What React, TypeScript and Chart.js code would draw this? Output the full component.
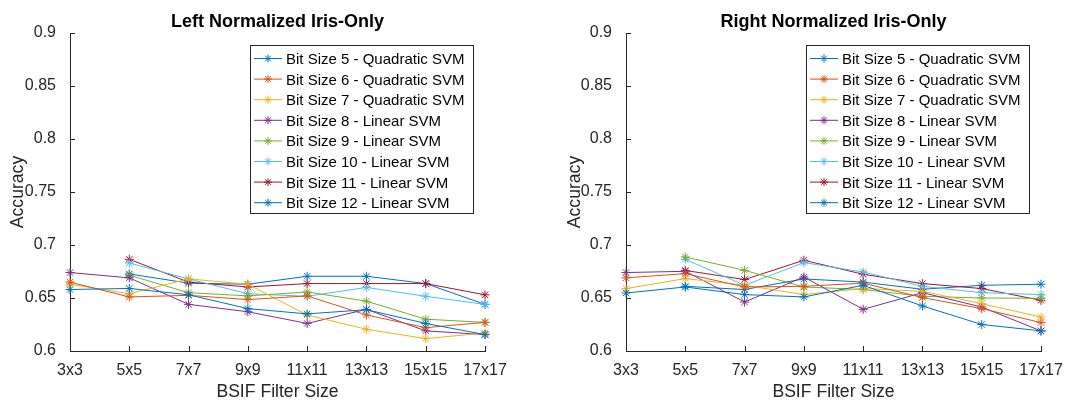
import React, { useEffect, useRef } from 'react';
import { Chart, registerables } from 'chart.js';

Chart.register(...registerables);

const categories = ['3x3', '5x5', '7x7', '9x9', '11x11', '13x13', '15x15', '17x17'];
const yTickValues = [0.6, 0.65, 0.7, 0.75, 0.8, 0.85, 0.9];
const seriesLabels = [
  'Bit Size 5 - Quadratic SVM',
  'Bit Size 6 - Quadratic SVM',
  'Bit Size 7 - Quadratic SVM',
  'Bit Size 8 - Linear SVM',
  'Bit Size 9 - Linear SVM',
  'Bit Size 10 - Linear SVM',
  'Bit Size 11 - Linear SVM',
  'Bit Size 12 - Linear SVM',
];
const seriesColors = ['#0072BD', '#D95319', '#EDB120', '#7E2F8E', '#77AC30', '#4DBEEE', '#A2142F', '#0072BD'];

// Left Normalized Iris-Only
const leftBit5 = [0.658, 0.659, 0.653, 0.640, 0.635, 0.639, 0.626, 0.6155];
const leftBit6 = [0.665, 0.651, 0.6525, 0.6485, 0.652, 0.634, 0.622, 0.627];
const leftBit7 = [0.663, 0.654, 0.668, 0.663, 0.634, 0.6205, 0.6117, 0.617];
const leftBit8 = [0.674, 0.669, 0.644, 0.637, 0.626, 0.6393, 0.619, 0.6155];
const leftBit9 = [null, 0.6715, 0.655, 0.652, 0.6557, 0.647, 0.630, 0.627];
const leftBit10 = [null, 0.683, 0.668, 0.654, 0.6516, 0.660, 0.6516, 0.644];
const leftBit11 = [null, 0.6865, 0.665, 0.6604, 0.6636, 0.6636, 0.6636, 0.653];
const leftBit12 = [null, 0.6727, 0.664, 0.663, 0.6705, 0.6705, 0.6636, 0.644];

// Right Normalized Iris-Only
const rightBit5 = [0.6547, 0.6604, 0.6532, 0.651, 0.662, 0.6425, 0.625, 0.619];
const rightBit6 = [0.669, 0.673, 0.6604, 0.661, 0.664, 0.6504, 0.640, 0.6268];
const rightBit7 = [0.6589, 0.6683, 0.662, 0.6532, 0.659, 0.6563, 0.6447, 0.632];
const rightBit8 = [0.674, 0.6752, 0.6462, 0.6698, 0.6393, 0.655, 0.6415, 0.6189];
const rightBit9 = [null, 0.6887, 0.6761, 0.6604, 0.658, 0.6516, 0.650, 0.6497];
const rightBit10 = [null, 0.6865, 0.662, 0.6834, 0.6745, 0.661, 0.655, 0.6532];
const rightBit11 = [null, 0.676, 0.6674, 0.6856, 0.6724, 0.6636, 0.6589, 0.6478];
const rightBit12 = [null, 0.661, 0.658, 0.668, 0.665, 0.6582, 0.662, 0.663];

const leftSeries = [leftBit5, leftBit6, leftBit7, leftBit8, leftBit9, leftBit10, leftBit11, leftBit12];
const rightSeries = [rightBit5, rightBit6, rightBit7, rightBit8, rightBit9, rightBit10, rightBit11, rightBit12];

const FONT = "'Liberation Sans', Arial, Helvetica, sans-serif";
const AXIS_COLOR = '#262626';

function drawStar(ctx: CanvasRenderingContext2D, x: number, y: number, r: number) {
  ctx.beginPath();
  ctx.moveTo(x - r, y);
  ctx.lineTo(x + r, y);
  ctx.moveTo(x, y - r);
  ctx.lineTo(x, y + r);
  const d = r * Math.SQRT1_2;
  ctx.moveTo(x - d, y - d);
  ctx.lineTo(x + d, y + d);
  ctx.moveTo(x - d, y + d);
  ctx.lineTo(x + d, y - d);
  ctx.stroke();
}

const decorPlugin = {
  id: 'matlabDecor',
  beforeDatasetsDraw(chart: any) {
    const { ctx, chartArea } = chart;
    const xs = chart.scales.x;
    const ys = chart.scales.y;
    ctx.save();
    ctx.strokeStyle = AXIS_COLOR;
    ctx.lineWidth = 1;
    ctx.beginPath();
    for (let i = 0; i < categories.length; i++) {
      const px = Math.round(xs.getPixelForTick(i)) + 0.5;
      ctx.moveTo(px, chartArea.bottom);
      ctx.lineTo(px, chartArea.bottom - 5);
    }
    for (const v of yTickValues) {
      const py = Math.round(ys.getPixelForValue(v)) + 0.5;
      ctx.moveTo(chartArea.left, py);
      ctx.lineTo(chartArea.left + 5, py);
    }
    ctx.stroke();
    ctx.restore();
  },
  afterDraw(chart: any) {
    const { ctx, chartArea } = chart;
    const opts = chart.options.plugins.matlabDecor || {};
    ctx.save();
    // Title
    ctx.fillStyle = '#000';
    ctx.font = `bold 18px ${FONT}`;
    ctx.textAlign = 'center';
    ctx.textBaseline = 'alphabetic';
    ctx.fillText(opts.title || '', (chartArea.left + chartArea.right) / 2, 26.5);

    // Legend
    const datasets = chart.data.datasets;
    ctx.font = `15px ${FONT}`;
    let maxW = 0;
    for (const ds of datasets) maxW = Math.max(maxW, ctx.measureText(ds.label).width);
    const boxW = Math.round(36 + maxW + 9);
    const rowH = 20.6;
    const boxH = 168;
    const right = chartArea.right - 12;
    const left = right - boxW;
    const top = chartArea.top + 12;
    ctx.fillStyle = '#fff';
    ctx.fillRect(left, top, boxW, boxH);
    ctx.strokeStyle = AXIS_COLOR;
    ctx.lineWidth = 1;
    ctx.strokeRect(Math.round(left) + 0.5, Math.round(top) + 0.5, boxW, boxH);
    datasets.forEach((ds: any, i: number) => {
      const base = top + 19 + i * rowH;
      const cy = base - 5.5;
      ctx.strokeStyle = ds.borderColor;
      ctx.lineWidth = 1;
      ctx.beginPath();
      ctx.moveTo(left + 4, cy);
      ctx.lineTo(left + 32, cy);
      ctx.stroke();
      drawStar(ctx, left + 18, cy, 4);
      ctx.fillStyle = '#000';
      ctx.textAlign = 'left';
      ctx.textBaseline = 'alphabetic';
      ctx.fillText(ds.label, left + 36, base);
    });
    ctx.restore();
  },
};

type PanelProps = {
  title: string;
  series: (number | null)[][];
  width: number;
  yAxisWidth: number;
  padRight: number;
  yTitlePad: number;
  left: number;
};

function Panel({ title, series, width, yAxisWidth, padRight, yTitlePad, left }: PanelProps) {
  const ref = useRef<HTMLCanvasElement | null>(null);
  useEffect(() => {
    if (!ref.current) return;
    const chart = new Chart(ref.current, {
      type: 'line',
      data: {
        labels: categories,
        datasets: series.map((d, i) => ({
          label: seriesLabels[i],
          data: d,
          borderColor: seriesColors[i],
          backgroundColor: seriesColors[i],
          pointBorderColor: seriesColors[i],
          pointBackgroundColor: seriesColors[i],
          borderWidth: 1,
          pointStyle: 'star',
          pointRadius: 4.5,
          pointBorderWidth: 1,
          tension: 0,
          fill: false,
        })),
      },
      options: {
        responsive: false,
        animation: false,
        devicePixelRatio: 1,
        layout: { padding: { top: 33, right: padRight, bottom: 0, left: 0 } },
        plugins: {
          legend: { display: false },
          tooltip: { enabled: false },
          title: { display: false },
          matlabDecor: { title },
        } as any,
        scales: {
          x: {
            type: 'category',
            offset: false,
            grid: { display: false },
            border: { display: true, color: AXIS_COLOR, width: 1 },
            ticks: {
              autoSkip: false,
              maxRotation: 0,
              minRotation: 0,
              color: AXIS_COLOR,
              padding: 2,
              font: { family: FONT, size: 16 },
            },
            title: {
              display: true,
              text: 'BSIF Filter Size',
              color: AXIS_COLOR,
              font: { family: FONT, size: 17.6 },
              padding: { top: 0, bottom: 1.5 },
            },
            afterFit: (s: any) => {
              s.height = 53;
            },
          },
          y: {
            min: 0.6,
            max: 0.9,
            grid: { display: false },
            border: { display: true, color: AXIS_COLOR, width: 1 },
            afterBuildTicks: (s: any) => {
              s.ticks = yTickValues.map((v) => ({ value: v }));
            },
            ticks: {
              color: AXIS_COLOR,
              padding: 6,
              font: { family: FONT, size: 16 },
              callback: (v: any) => String(parseFloat(Number(v).toFixed(2))),
            },
            title: {
              display: true,
              text: 'Accuracy',
              color: AXIS_COLOR,
              font: { family: FONT, size: 17.6 },
              padding: { top: yTitlePad, bottom: 0 },
            },
            afterFit: (s: any) => {
              s.width = yAxisWidth;
            },
          },
        },
      },
      plugins: [decorPlugin],
    });
    return () => chart.destroy();
  }, []);
  return (
    <canvas
      ref={ref}
      width={width}
      height={404}
      style={{ position: 'absolute', left, top: 0, width, height: 404 }}
    />
  );
}

export default function App() {
  return (
    <div style={{ position: 'absolute', left: 0, top: 0, width: 1065, height: 404, background: '#fff', overflow: 'hidden' }}>
      <Panel title="Left Normalized Iris-Only" series={leftSeries} width={532} yAxisWidth={70} padRight={47} yTitlePad={7.5} left={0} />
      <Panel title="Right Normalized Iris-Only" series={rightSeries} width={533} yAxisWidth={94} padRight={24} yTitlePad={32.5} left={532} />
    </div>
  );
}
